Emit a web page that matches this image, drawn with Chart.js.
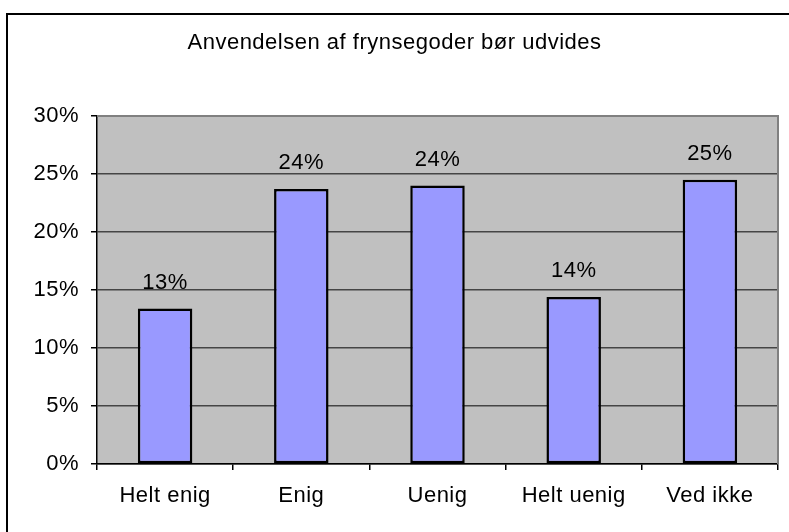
<!DOCTYPE html>
<html>
<head>
<meta charset="utf-8">
<script src="https://cdn.jsdelivr.net/npm/chart.js@4"></script>
<style>
  html, body { margin: 0; padding: 0; background: #fff; }
  #wrap { width: 789px; height: 532px; }
</style>
</head>
<body>
<div id="wrap"><canvas id="chart" width="789" height="532"></canvas></div>
<script>
// --- data ---
const categories = ['Helt enig', 'Enig', 'Uenig', 'Helt uenig', 'Ved ikke'];
const shares = [13.4, 23.7, 24.0, 14.4, 24.5];
const yTicks = [0, 5, 10, 15, 20, 25, 30];
const chartTitle = 'Anvendelsen af frynsegoder bør udvides';

const FONT = 'Liberation Sans, Arial, sans-serif';
const SIZE = 22;

// grey plot area, frame and outer border (Excel look)
const excelFrame = {
    id: 'excelFrame',
    beforeDraw(chart) {
        const { ctx, chartArea: a } = chart;
        // slightly wider text, like the original
        ctx.letterSpacing = '0.5px';
        ctx.save();
        ctx.fillStyle = '#fff';
        ctx.fillRect(0, 0, chart.width, chart.height);
        ctx.strokeStyle = '#000';
        ctx.lineWidth = 2;
        ctx.strokeRect(7, 14, 900, 700);
        ctx.fillStyle = '#c0c0c0';
        ctx.fillRect(a.left, a.top, a.right - a.left, a.bottom - a.top);
        ctx.restore();
    },
    afterDatasetsDraw(chart) {
        const { ctx, chartArea: a } = chart;
        ctx.save();
        ctx.strokeStyle = '#808080';
        ctx.lineWidth = 2;
        ctx.beginPath();
        ctx.moveTo(a.left, a.top);
        ctx.lineTo(a.right, a.top);
        ctx.lineTo(a.right, a.bottom);
        ctx.stroke();
        ctx.restore();
    }
};

// value labels above the bars
const barLabels = {
    id: 'barLabels',
    afterDatasetsDraw(chart) {
        const { ctx } = chart;
        const meta = chart.getDatasetMeta(0);
        ctx.save();
        ctx.font = SIZE + 'px ' + FONT;
        ctx.fillStyle = '#000';
        ctx.textAlign = 'center';
        ctx.textBaseline = 'middle';
        meta.data.forEach((bar, i) => {
            ctx.fillText(Math.round(shares[i]) + '%', bar.x, bar.y - 26);
        });
        ctx.restore();
    }
};

new Chart(document.getElementById('chart'), {
    type: 'bar',
    data: {
        labels: categories,
        datasets: [{
            data: shares,
            backgroundColor: '#9999ff',
            borderColor: '#000',
            borderWidth: 2.5,
            borderSkipped: false,
            categoryPercentage: 1,
            barPercentage: 0.4
        }]
    },
    options: {
        responsive: false,
        animation: false,
        devicePixelRatio: 1,
        layout: { padding: { left: 11, right: 11, top: 0, bottom: 0 } },
        plugins: {
            legend: { display: false },
            tooltip: { enabled: false },
            title: {
                display: true,
                text: chartTitle,
                color: '#000',
                font: { family: FONT, size: SIZE, weight: 'normal' },
                padding: { top: 30, bottom: 59.6 }
            }
        },
        scales: {
            y: {
                min: 0,
                max: 30,
                afterBuildTicks: s => { s.ticks = yTicks.map(v => ({ value: v })); },
                afterFit: s => { s.width = 86; },
                ticks: {
                    color: '#000',
                    font: { family: FONT, size: SIZE },
                    padding: 12,
                    callback: v => v + '%'
                },
                grid: {
                    color: ctx => ctx.tick && ctx.tick.value === 30 ? '#808080' : '#454545',
                    tickColor: '#000',
                    tickLength: 6,
                    lineWidth: 1.5
                },
                border: { color: '#000', width: 1.5 }
            },
            x: {
                afterFit: s => { s.height = 68; },
                ticks: {
                    color: '#000',
                    font: { family: FONT, size: SIZE },
                    padding: 13
                },
                grid: {
                    drawOnChartArea: false,
                    tickColor: '#000',
                    tickLength: 6,
                    lineWidth: 1.5
                },
                border: { color: '#000', width: 1.5 }
            }
        }
    },
    plugins: [excelFrame, barLabels]
});
</script>
</body>
</html>
